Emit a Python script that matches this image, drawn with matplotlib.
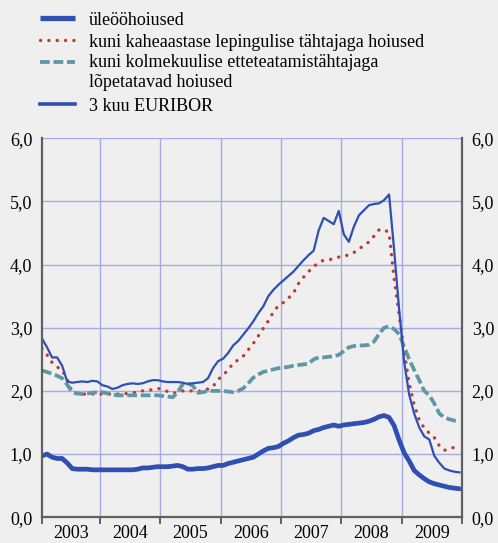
import numpy as np
import matplotlib
matplotlib.use("Agg")
import matplotlib.pyplot as plt
from matplotlib.lines import Line2D

# ── data (monthly, Jan 2003 - Dec 2009) ───────────────────────────────────────
years = ["2003", "2004", "2005", "2006", "2007", "2008", "2009"]

overnight = [
    0.97, 1.00, 0.95, 0.93, 0.93, 0.86, 0.77, 0.76, 0.76, 0.76, 0.75, 0.75,
    0.75, 0.75, 0.75, 0.75, 0.75, 0.75, 0.75, 0.76, 0.78, 0.78, 0.79, 0.80,
    0.80, 0.80, 0.81, 0.82, 0.80, 0.76, 0.76, 0.77, 0.77, 0.78, 0.80, 0.82,
    0.82, 0.85, 0.87, 0.89, 0.91, 0.93, 0.95, 1.00, 1.05, 1.09, 1.10, 1.12,
    1.17, 1.21, 1.26, 1.30, 1.31, 1.33, 1.37, 1.39, 1.42, 1.44, 1.46, 1.44,
    1.46, 1.47, 1.48, 1.49, 1.50, 1.52, 1.55, 1.59, 1.61, 1.58, 1.45, 1.22,
    1.02, 0.89, 0.74, 0.67, 0.61, 0.56, 0.53, 0.51, 0.49, 0.47, 0.46, 0.45,
]

two_year = [
    2.67, 2.57, 2.45, 2.38, 2.33, 2.18, 1.98, 1.95, 1.95, 1.95, 1.95, 1.95,
    1.95, 1.95, 1.95, 1.95, 1.95, 1.96, 1.97, 1.98, 2.00, 2.01, 2.02, 2.04,
    2.02, 1.99, 1.96, 1.98, 2.00, 2.00, 2.00, 1.99, 2.01, 2.03, 2.07, 2.18,
    2.25, 2.33, 2.44, 2.49, 2.55, 2.65, 2.75, 2.87, 2.99, 3.11, 3.25, 3.35,
    3.40, 3.47, 3.55, 3.70, 3.80, 3.89, 3.97, 4.03, 4.07, 4.08, 4.09, 4.12,
    4.14, 4.15, 4.19, 4.25, 4.30, 4.36, 4.45, 4.55, 4.56, 4.50, 3.78, 3.21,
    2.63, 2.12, 1.78, 1.54, 1.41, 1.33, 1.26, 1.13, 1.06, 1.08, 1.11, 1.14,
]

notice = [
    2.32, 2.30, 2.27, 2.24, 2.20, 2.10, 1.98, 1.96, 1.95, 1.96, 1.97, 1.98,
    1.98, 1.96, 1.94, 1.93, 1.93, 1.93, 1.93, 1.93, 1.93, 1.93, 1.93, 1.93,
    1.92, 1.91, 1.90, 1.98, 2.11, 2.12, 2.08, 1.97, 1.98, 2.00, 2.00, 2.00,
    2.00, 1.99, 1.98, 2.00, 2.04, 2.12, 2.21, 2.26, 2.30, 2.32, 2.34, 2.36,
    2.37, 2.38, 2.40, 2.41, 2.42, 2.43, 2.50, 2.53, 2.53, 2.54, 2.55, 2.57,
    2.63, 2.69, 2.71, 2.72, 2.72, 2.73, 2.78, 2.90, 3.00, 3.02, 2.98, 2.90,
    2.70, 2.50, 2.33, 2.17, 2.00, 1.93, 1.80, 1.64, 1.58, 1.55, 1.53, 1.52,
]

euribor = [
    2.83, 2.69, 2.53, 2.53, 2.40, 2.15, 2.13, 2.14, 2.15, 2.14, 2.16, 2.15,
    2.09, 2.07, 2.03, 2.05, 2.09, 2.11, 2.12, 2.11, 2.12, 2.15, 2.17, 2.17,
    2.15, 2.14, 2.14, 2.14, 2.13, 2.11, 2.12, 2.13, 2.14, 2.20, 2.36, 2.47,
    2.51, 2.60, 2.72, 2.79, 2.89, 2.99, 3.10, 3.23, 3.34, 3.50, 3.60, 3.68,
    3.75, 3.82, 3.89, 3.98, 4.07, 4.15, 4.22, 4.54, 4.74, 4.69, 4.64, 4.85,
    4.48, 4.36, 4.60, 4.78, 4.86, 4.94, 4.96, 4.97, 5.02, 5.11, 4.24, 3.29,
    2.46, 1.94, 1.64, 1.42, 1.28, 1.23, 0.97, 0.86, 0.77, 0.74, 0.72, 0.71,
]

labels = [
    "üleööhoiused",
    "kuni kaheaastase lepingulise tähtajaga hoiused",
    "kuni kolmekuulise etteteatamistähtajaga\nlõpetatavad hoiused",
    "3 kuu EURIBOR",
]

y_ticks = [0, 1, 2, 3, 4, 5, 6]
y_ticklabels = ["0,0", "1,0", "2,0", "3,0", "4,0", "5,0", "6,0"]

# ── styles ────────────────────────────────────────────────────────────────────
BG = "#efefef"
BLUE = "#2f4fb2"
RED = "#c0392b"
TEAL = "#5f97a6"
GRID = "#a4abe6"
AXC = "#606060"

plt.rcParams["font.family"] = ["Liberation Serif", "DejaVu Serif"]
plt.rcParams["font.size"] = 13

styles = [
    dict(color=BLUE, lw=3.4, ls="-", solid_capstyle="round"),
    dict(color=RED, lw=2.4, ls=(0, (0.05, 2.45)), dash_capstyle="round"),
    dict(color=TEAL, lw=2.7, ls=(0, (2.6, 1.0)), dash_capstyle="butt"),
    dict(color=BLUE, lw=1.6, ls="-"),
]
series = [overnight, two_year, notice, euribor]

fig = plt.figure(figsize=(4.98, 5.43), dpi=100, facecolor=BG)
ax = fig.add_axes([42 / 498, 25.8 / 543, 420 / 498, 378.9 / 543], facecolor=BG)

x = np.arange(len(euribor))

# draw order: teal, red, euribor, overnight
for idx in [2, 1, 3, 0]:
    ax.plot(x, series[idx], zorder=3 + idx, **styles[idx])

# ── axes ──────────────────────────────────────────────────────────────────────
ax.set_xlim(0, 83.5)
ax.set_ylim(0, 6)

bounds = [0] + [11.5 + 12 * i for i in range(6)] + [83.5]
centers = [5.5 + 12 * i for i in range(7)]
centers[0] = 5.75
centers[-1] = 77.5

ax.set_xticks(bounds)
ax.set_xticklabels([])
ax.set_xticks(centers, minor=True)
ax.set_xticklabels(years, minor=True)
ax.tick_params(axis="x", which="major", direction="out", length=5, width=1.4, color=AXC)
ax.tick_params(axis="x", which="minor", length=0, pad=5.8)

ax.set_yticks(y_ticks)
ax.set_yticklabels(y_ticklabels)
ax.tick_params(axis="y", length=0, pad=7, labelleft=True, labelright=True)

# grid lines
for b in bounds[1:-1]:
    ax.axvline(b, color=GRID, lw=1.0, zorder=1)
for yv in y_ticks[1:]:
    ax.axhline(yv, color=GRID, lw=1.0, zorder=1)

ax.spines["top"].set_visible(False)
for side in ["left", "right", "bottom"]:
    ax.spines[side].set_color(AXC)
    ax.spines[side].set_linewidth(1.6)
    ax.spines[side].set_zorder(8)

# ── legend (drawn by hand to match the layout) ───────────────────────────────
leg_rows = [18, 40, 62, 104]
for i, (lab, st) in enumerate(zip(labels, styles)):
    yy = 1 - leg_rows[i] / 543
    st2 = dict(st)
    if i == 0:
        st2["lw"] = 3.8
        st2["solid_capstyle"] = "butt"
    if i == 3:
        st2["lw"] = 2.6
    fig.add_artist(Line2D([40 / 498, 75 / 498], [yy, yy], transform=fig.transFigure, **st2))
    ty = 1 - (leg_rows[i] + 2.5) / 543
    if "\n" in lab:
        ty = 1 - 54 / 543
    fig.text(89 / 498, ty, lab, va="top" if "\n" in lab else "center",
             ha="left", fontsize=13, linespacing=1.22,
             transform=fig.transFigure)

fig.savefig("out.png", dpi=100, facecolor=BG)
